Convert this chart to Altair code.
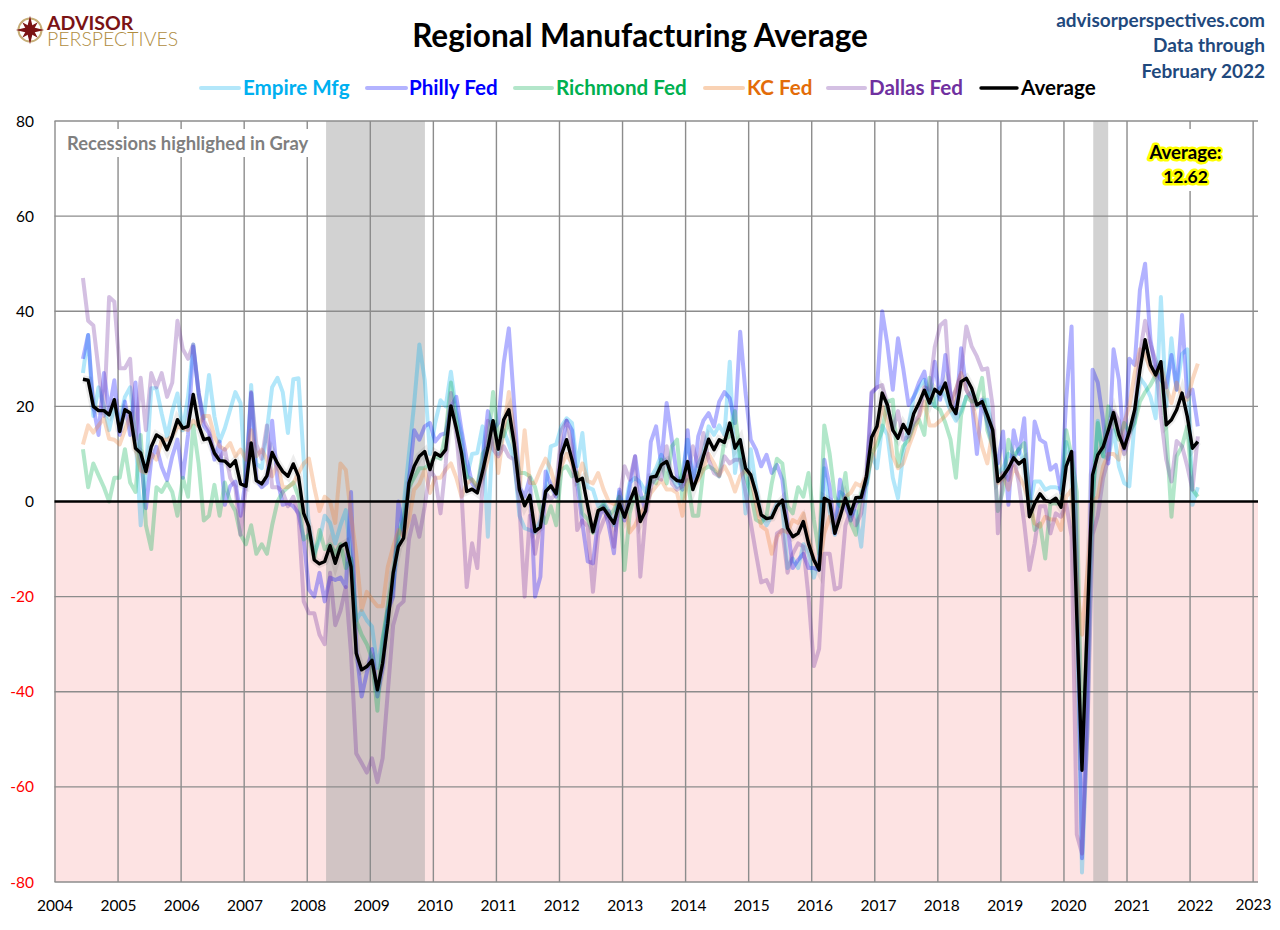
import altair as alt
import pandas as pd

FONT = "Lato"
years = list(range(2004, 2024))
y_ticks = [-80, -60, -40, -20, 20, 40, 60, 80]
recessions = [("2008-04-15", "2009-11-06"), ("2020-05-26", "2020-08-20")]

empire = [27,35,18,24,20,15,20,17,22,24,
 14,-5,6,23.8,23.8,18.5,13.6,19,22.7,15,
 22,33,22.7,17.5,26.6,17.9,12.6,15.4,19.3,23,
 20.7,3.2,24.5,8,7,15,24,26,23,14.4,
 25.7,25.9,8.8,-5,-11,-8,-3,-4.5,-8.8,-5,
 -1.8,-12,-25,-23,-25,-26.3,-35,-29,-23,-18,
 -8,-1,10,20.6,33,25.5,10,16.5,21.3,20,
 27.3,19,14,5,10,10.2,15.8,-7.4,17,10,
 15,12,8.8,-3,-5.6,-6,-6.5,-4,1.8,11.6,
 12,15.8,17.5,16.5,7.4,14.4,3,2.5,-1,0,
 -2,-5,2,-2,4,5,4,2,5,7,
 9.8,8,5,3,6,13,5,8,10,15.8,
 14,16,14,29.4,6,13,-2.5,11,3,-3,
 -5,-3,-0.4,-1,-14,-12,-14,-9,-11,-16,
 -12,7,-2,-7,2,1,-3,-2,-9.5,3,
 10,7,16,14,5,0.7,10,16,22,24,
 25.6,21,20,24,22,19,17,19,22,23,
 20,21,21.4,14,6,7,10,9,11,8,
 -1,4.2,4.2,2.5,3,3,2.5,12.5,8,-21.5,
 -78,-48,-0.2,17,9.5,9,15,7.4,3.9,3.2,
 17,26,24.5,22,17.5,43,20,34.3,23.5,31,
 32,-0.7,3]

philly = [30,35,20,14,27,19,25.5,14,21,14,
 25,9,-1.4,8.7,11.5,7.3,4.5,9.5,13,5,
 14,32.6,22.8,16,14.4,8.8,12.6,-0.7,3.2,4.2,
 -3,5,22.8,4.6,3,3.9,17,4.5,-0.7,-0.3,
 -1,-2.5,-8,-18.5,-20,-15,-21,-16,-16.5,-16,
 -18,2,-31,-41,-36,-31,-41,-35,-23,-20,
 0,-7,4.5,15,13,15.8,16.5,12.6,14,14.4,
 20,22,15,8.8,3.8,2.5,8.8,19,15,16.5,
 29,36.4,20.7,3,1,5,-20,-15.8,6.3,3.5,
 1,10,17,15,3.8,-4.6,-12.6,-13,-4,-1,
 -5,-10.9,2.5,-4,3,9.5,2,-2,12.6,15.8,
 7.7,20.7,13,5.3,2.5,15,3,13.7,17,18.6,
 15.8,21,23,21.7,16.5,35.7,22.8,13,10.9,7.4,
 9.8,6,7.7,4.6,-5,-14,-12.3,-11,-14,-14,
 -14.4,8.8,3,-6.7,4.6,-1,-4,-0.4,0.4,4,
 22.8,24,40,33,23.5,34.3,28,20.3,22,25,
 27.3,20.7,29.4,21.4,30.8,22.6,18.5,32.2,23.5,21.4,
 10,21.4,16.5,11.5,8,14.7,-0.7,15,10,17.5,
 -2.5,16.8,13,12.3,6.7,7.7,1.8,21.4,36.8,-12.7,
 -75,-43,27.7,25,17,8,32,25.6,11,30,
 28.7,44.5,50,34,27.7,25.6,24,30.8,23.5,39.2,
 22,23.5,15.8]

richmond = [11,3,8,5.5,3,0,5,5,11,4,
 2,14,-5,-10,3,2,4,2,-3,5,
 1,16,8,-4,-3,3.5,-3,4,0,-2,
 -7,-9,-5,-11,-9,-11,-5,0,2,3,
 4,1,-8,-7,-12,-6,-10,-9,-11,-9,
 -14,-12,-25,-28,-30,-33,-44,-29,-22,-15,
 -7,-4,3,5,7,7,8,9.5,9,14.4,
 25,17,10,5.3,4.6,3,10,11.6,23,13.7,
 13.7,17,11.6,6,6,5.3,3,-1.8,-4.5,-1,
 -5,6.7,7.4,5.3,6,-2.5,-3.8,-6.6,-2,-0.5,
 -3,-1.8,1,-14.4,-2.5,1.8,0.4,1,4.5,3.8,
 8.8,3.8,11.6,13,0.4,4.5,-3,-3,6.7,7.4,
 6.7,5.3,13,13.7,19,8.8,5.3,1.8,-3.8,-4.5,
 -3,3.8,9,8,-1,-2.5,3,1,6,-3.8,
 -11,16,10,1,-1,6,-4.5,-7,1.8,3.8,
 10,12,15,21,21.4,7.4,11.6,13,15.8,17.2,
 14,26,20,19.3,16.5,13,5,18.2,22,21,
 21.4,26,15,11.5,-2,2.5,13,9.5,11,12.3,
 1,-6,-4.6,-12,-0.4,-0.4,-0.4,15,9.5,2,
 -53,-27,0,16.5,9.5,20,16.5,13,16.5,14.5,
 16.5,21,23,24.5,26.6,28,15,-3.2,9.5,11.6,
 15.8,2.5,1]

kc = [12,16,14.5,16,17.5,13.2,13,12,15,18,
 11,6.5,6,10,8.8,13,13,13.7,15.8,15.4,
 15,17,15.8,18,18,13.7,11.6,10.9,12.3,9.5,
 10.9,8.8,15,9.5,10.9,8.8,5.3,8,3,3,
 3.8,6,8,9,3,-2,1,0,-4.5,8,
 6.6,-3,-11,-22.8,-19,-20.6,-22,-22,-13.7,-9.5,
 -6,-7.4,-3.9,2.5,3.8,6.7,1.8,5,5,6.7,
 8,5,1,3.8,4.6,3,5,8.8,14.4,6,
 15,23,14.4,2.5,15,3.9,3.9,6.7,9,6.7,
 2.5,7.4,10,8,4.3,8,4.3,3.8,6,2.5,
 0,-0.5,-0.4,-0.4,-6.5,-5,-2.5,-1,1.8,3.2,
 4.5,2.5,2.5,1.8,-3,5.3,3.2,4.6,6.7,10,
 8,5.6,7.4,5.3,2.1,5.3,6.7,5.3,-0.4,-5.2,
 -6,-11,-7.4,-6,-6.5,-3.9,-4.5,-2.5,-8,-12.3,
 -13.7,-6.7,-3.2,-5.2,-2.5,1,1.8,3.8,3.2,5.3,
 8.8,14.5,20,16.5,9.5,7,8,11.5,14.4,17.8,
 21,16,16,17,18,19.3,23.5,27,23.5,21.4,
 16.5,11.5,8,15,3.9,5.3,2.5,7.4,5.3,3.2,
 -0.4,-4.6,-5.3,-3.2,-3.8,-3.8,-6,1,2.5,-17,
 -28,-15,0,1,7.4,10,10,8.8,16.5,20,
 27,32,31,27.7,26.3,28.4,24,20.7,25,22,
 21.4,25.6,29]

dallas = [47,38,37,27.7,18,43,42,28,28,30,
 13,26,15,27,24,27,22,25,38,32,
 30,33,23,17,15,10,9,11,5,3,
 -7,3,23,12,9,16,3,3,2,-1,
 1,-3,-21,-23.5,-23.5,-28,-30,-15,-26,-23,
 -18,-32,-53,-55,-57,-54,-59,-54,-40,-26,
 -22,-21,-8,-3,-7.4,-1,6.7,5,-2.5,8,
 22.8,14.4,1.8,-18,-8.8,-14,3,17,11,9.5,
 11.6,9.5,8.8,-1,-20,-3,-11,-4.6,1.8,0.4,
 1.8,15,17,11.6,-6,-4,-5.3,-19,-7,-4,
 -2,-9.5,0,7.4,4.6,9.5,-15.8,-3,3.2,5.3,
 4.6,11.6,3.8,2.5,3.2,5.3,11.6,7.4,14.4,8.8,
 6,5.3,9.5,8,8.8,8.8,1.8,-4.5,-10.9,-17,
 -16.5,-19,-6.7,-6,-15,-11,-8.8,-9.5,-20,-34.6,
 -31,-11,-11,-18.5,-18,-5,-1.8,-5,-2.5,5.3,
 23,24,24.5,20,15,19,13,13.7,16.5,18,
 24,23.5,32.5,37,38,21.4,23.5,27,36.8,32.6,
 30.5,27.7,28,20,-6.7,6,4.6,9.5,3.8,-4.6,
 -14.4,-8.8,-1,-1,-6.7,-2.5,-3.2,-0.4,-7.4,-70,
 -74,-49,-7,-3,5,9,19,17,10,14,
 18,31,38,33,29.6,18,8.8,4.2,12.7,11.6,
 7.4,2.5,13.7]

average = [25.7,25.5,20,19.1,19.1,18.2,21.4,14.7,19.3,18.6,
 11.2,10.2,6.3,11.5,14,13.3,10.9,13.7,17.2,15.4,
 15.8,22.5,16.1,13,13.3,10.2,8.6,8.5,7.4,8.6,
 3.7,3.2,12.3,4.4,3.7,5.4,10.3,8,6.3,5.3,
 7.9,5.3,-2.5,-5.3,-12.3,-13.1,-12.6,-9.3,-13,-9.5,
 -8.8,-13.7,-31.9,-35.4,-34.7,-33.4,-39.6,-34,-25.6,-15,
 -9.5,-7.7,3.9,7.4,9.5,10.5,6.7,10.2,9.5,10.9,
 20.1,15.4,10.2,2.1,2.6,1.8,6.3,11.2,17,11,
 17.2,19.3,12.3,2.5,-0.9,1.3,-6.3,-5.4,2.1,3.3,
 1.6,9.8,13,8.8,4.3,4.9,-1,-6.4,-1.9,-1.4,
 -3,-4.6,-0.4,-3.3,0,2.8,-4.2,-2,5.1,5.3,
 7.7,8.4,5.3,4.4,4.2,8.4,2.5,5.6,9.5,13.1,
 10.9,13,12.4,16.5,11.2,13,7,5.6,1.8,-2.8,
 -3.6,-3.4,-1,0.3,-5.6,-7.4,-6.7,-4.2,-8.8,-12.3,
 -14.4,0.7,0,-6.7,-3.2,0.7,-2.6,0.8,0.9,5.3,
 13.5,15.8,22.8,20.3,15,13.3,16.2,14.3,18.5,20.7,
 23.4,20.7,23.6,22.6,24.9,20.3,18.5,25.2,25.9,23.8,
 20.3,21,18.2,15,4.2,5.3,7,9.2,7.9,8.8,
 -3.2,-0.4,1.6,0.2,-0.1,0.7,-1.2,7.4,10.5,-24,
 -56.5,-25,5.6,9.8,11.5,15,18.7,14,11.2,14.7,
 19.3,27.7,34,28.7,26.6,29.4,16.1,17.2,19.3,22.8,
 17.9,11.2,12.6]

series = [
    ("Empire Mfg", empire, "#00B0F0", "#00B0F0"),
    ("Philly Fed", philly, "#0000FF", "#0000FF"),
    ("Richmond Fed", richmond, "#00B050", "#00B050"),
    ("KC Fed", kc, "#ED7D31", "#E36C09"),
    ("Dallas Fed", dallas, "#7030A0", "#7030A0"),
]
dates = pd.date_range(start="2004-06-13", end="2022-01-19", periods=213)

OX, OY = 54.5, 121.0
W, H = 1203.5, 761.0
GRID_STEP = 63.06
x_scale = alt.Scale(type="utc", domain=["2004-01-01", "2023-01-01"])
y_scale = alt.Scale(domain=[-80, 80], nice=False, zero=False)


def df_line(vals):
    return pd.DataFrame({"d": [d.strftime("%Y-%m-%d") for d in dates[: len(vals)]], "v": vals})


def label(px, py, s, color="black", size=16, weight="normal", align="left", **kw):
    return alt.Chart(pd.DataFrame({"s": [s]})).mark_text(
        font=FONT, fontSize=size, fontWeight=weight, color=color, align=align, baseline="middle", **kw
    ).encode(x=alt.value(px - OX), y=alt.value(py - OY), text="s:N")


def sample(x0, x1, py, color, width):
    return alt.Chart(pd.DataFrame({"a": [0]})).mark_rule(color=color, strokeWidth=width, strokeCap="round").encode(
        x=alt.value(x0 - OX), x2=alt.value(x1 - OX), y=alt.value(py - OY)
    )


def box(x0, x1, y0, y1, color):
    return alt.Chart(pd.DataFrame({"a": [0]})).mark_rect(color=color).encode(
        x=alt.value(x0 - OX), x2=alt.value(x1 - OX), y=alt.value(y0 - OY), y2=alt.value(y1 - OY)
    )


def glyph(px, py, shape, size, **kw):
    return alt.Chart(pd.DataFrame({"a": [0]})).mark_point(shape=shape, size=size, **kw).encode(
        x=alt.value(px - OX), y=alt.value(py - OY)
    )


layers = []

# pink negative zone, with the axes (the last year label is placed by hand so it is not cut by the page edge)
neg = pd.DataFrame({"a": ["2004-01-01"], "b": ["2023-01-01"], "y": [0], "y2": [-80]})
layers.append(alt.Chart(neg).mark_rect(color="#FDE3E3").encode(
    x=alt.X("a:T", scale=x_scale, title=None,
            axis=alt.Axis(format="%Y", tickCount=alt.TimeIntervalStep(interval="year", step=1), grid=False, ticks=False, domain=False,
                          labelFont=FONT, labelFontSize=15.5, labelColor="black", labelPadding=16, labelAngle=0, labelFlush=False,
                          labelExpr="datum.label == '2023' ? '' : datum.label")),
    x2="b:T",
    y=alt.Y("y:Q", scale=y_scale, title=None,
            axis=alt.Axis(values=[-80, -60, -40, -20, 0, 20, 40, 60, 80], grid=False, ticks=False, domain=False,
                          labelFont=FONT, labelFontSize=15.5, labelPadding=21, labelExpr="'' + datum.value",
                          labelColor=alt.expr("datum.value < 0 ? '#FF0000' : 'black'"))),
    y2="y2:Q",
))
layers.append(label(1271.5, 905, "2023", size=15.5, align="right"))

# recessions
rec = pd.DataFrame({"a": [r[0] for r in recessions], "b": [r[1] for r in recessions], "y": [80, 80], "y2": [-80, -80]})
layers.append(alt.Chart(rec).mark_rect(color="#A6A6A6", opacity=0.5).encode(
    x=alt.X("a:T", scale=x_scale), x2="b:T", y=alt.Y("y:Q", scale=y_scale), y2="y2:Q"))

# grid: the vertical lines run a little tighter than the year labels, as in the source
for k, _ in enumerate(years):
    layers.append(alt.Chart(pd.DataFrame({"a": [0]})).mark_rule(color="#8C8C8C", strokeWidth=1.4).encode(
        x=alt.value(0.5 + k * GRID_STEP), y=alt.value(0), y2=alt.value(H)))
grid_y = pd.DataFrame({"v": y_ticks})
layers.append(alt.Chart(grid_y).mark_rule(color="#8C8C8C", strokeWidth=1.4).encode(y=alt.Y("v:Q", scale=y_scale)))

# white text boxes that interrupt the grid
layers.append(box(60, 315, 129, 157, "white"))
layers.append(box(1140, 1235, 129, 191, "white"))

# series
for name, vals, col, _ in series:
    layers.append(alt.Chart(df_line(vals)).mark_line(color=col, opacity=0.3, strokeWidth=4, strokeJoin="round").encode(
        x=alt.X("d:T", scale=x_scale), y=alt.Y("v:Q", scale=y_scale)))

# zero line and average (soft halo below the black line)
layers.append(alt.Chart(pd.DataFrame({"v": [0]})).mark_rule(color="black", strokeWidth=2.6).encode(y=alt.Y("v:Q", scale=y_scale)))
layers.append(alt.Chart(df_line(average)).mark_line(color="black", opacity=0.07, strokeWidth=8).encode(
    x=alt.X("d:T", scale=x_scale), y=alt.Y("v:Q", scale=y_scale)))
layers.append(alt.Chart(df_line(average)).mark_line(color="black", strokeWidth=3.4, strokeJoin="round").encode(
    x=alt.X("d:T", scale=x_scale), y=alt.Y("v:Q", scale=y_scale)))

# header
layers.append(label(640, 38, "Regional Manufacturing Average", size=31.5, weight="bold", align="center"))
for py, s in [(21, "advisorperspectives.com"), (46, "Data through"), (72, "February 2022")]:
    layers.append(label(1265, py, s, color="#1F497D", size=19, weight="bold", align="right"))

# logo
GOLD = "#B08D3F"
MAROON = "#7A1315"
layers.append(glyph(30, 30, "circle", 530, filled=False, color=GOLD, strokeWidth=2))
layers.append(glyph(30, 30, "M0,-1 L0.2,-0.2 L1,0 L0.2,0.2 L0,1 L-0.2,0.2 L-1,0 L-0.2,-0.2 Z", 800, filled=True, color=MAROON, opacity=1))
layers.append(glyph(30, 30, "M-0.55,-0.55 L0,-0.25 L0.55,-0.55 L0.25,0 L0.55,0.55 L0,0.25 L-0.55,0.55 L-0.25,0 Z", 800, filled=True, color=MAROON, opacity=1))
layers.append(label(47, 24, "ADVISOR", color=MAROON, size=19.5, weight="bold"))
layers.append(label(47, 39.5, "PERSPECTIVES", color=GOLD, size=19.5, weight=300))

# legend
legend = [
    (201, 239, 243, "Empire Mfg", "#B3E7FA", "#00B0F0"),
    (367, 406, 409, "Philly Fed", "#B3B3FF", "#0000FF"),
    (515, 552, 556, "Richmond Fed", "#B3E6CA", "#00B050"),
    (705, 743, 747, "KC Fed", "#F9D2B4", "#E36C09"),
    (828, 865, 869, "Dallas Fed", "#D4C0E3", "#7030A0"),
]
for x0, x1, tx, s, lc, tc in legend:
    layers.append(sample(x0, x1, 88, lc, 4))
    layers.append(label(tx, 89, s, color=tc, size=20.6, weight="bold"))
layers.append(sample(981, 1017, 88, "black", 3.4))
layers.append(label(1021, 89, "Average", size=20.6, weight="bold"))

# annotations
layers.append(label(67, 144, "Recessions highlighed in Gray", color="#7F7F7F", size=18.4, weight="bold"))
for py, s, sz in [(153, "Average:", 18.6), (178, "12.62", 17.5)]:
    layers.append(label(1185.5, py, s, color="#FFFF00", size=sz, weight="bold", align="center", stroke="#FFFF00", strokeWidth=5, strokeJoin="round"))
    layers.append(label(1185.5, py, s, size=sz, weight="bold", align="center"))

chart = alt.layer(*layers).properties(
    width=W, height=H,
    padding={"left": OX - 8, "top": OY - 8, "right": 1272 - OX - W, "bottom": 922 - OY - H},
    autosize=alt.AutoSizeParams(type="none"),
    background="white",
).configure_view(stroke=None)

chart.save("out.html", embed_options={"renderer": "svg", "actions": False})
